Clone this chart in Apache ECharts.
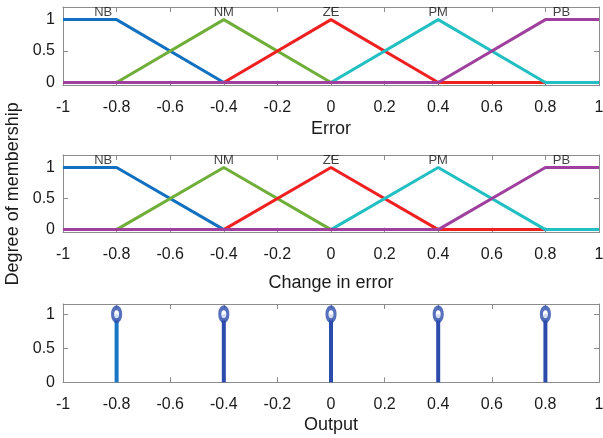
<!DOCTYPE html>
<html>
<head>
<meta charset="utf-8">
<script src="https://cdn.jsdelivr.net/npm/echarts@6/dist/echarts.min.js"></script>
<style>html,body{margin:0;padding:0;background:#fff}#c{width:603px;height:438px}</style>
</head>
<body>
<div id="c"></div>
<script>
// ---- data ----
const mfNames = ['NB', 'NM', 'ZE', 'PM', 'PB'];
const mfNB = [[-1, 1], [-0.8, 1], [-0.4, 0], [1, 0]];
const mfNM = [[-1, 0], [-0.8, 0], [-0.4, 1], [0, 0], [1, 0]];
const mfZE = [[-1, 0], [-0.4, 0], [0, 1], [0.4, 0], [1, 0]];
const mfPM = [[-1, 0], [0, 0], [0.4, 1], [0.8, 0], [1, 0]];
const mfPB = [[-1, 0], [0.4, 0], [0.8, 1], [1, 1]];
const mfLabelX = [-0.85, -0.4, 0, 0.4, 0.86];
const mfLabelY = 1.12;
const outputX = [-0.8, -0.4, 0, 0.4, 0.8];
const outputY = [1, 1, 1, 1, 1];
const yTickValues = [0, 0.5, 1];
const axisNames = ['Error', 'Change in error', 'Output'];

const mfData = [mfNB, mfNM, mfZE, mfPM, mfPB];
const mfColors = ['#1170c0', '#70ae3a', '#ee2020', '#22bfc2', '#a0409e'];
const stemColors = ['#1a74c6', '#2c4cac', '#2c4cac', '#2c4cac', '#2c4cac'];

const FONT = 'Liberation Sans, Arial, sans-serif';
const frameColor = '#8c8c8c';

const grids = [
  {left: 63, right: 4, top: 7, height: 78.7, outerBoundsMode: 'none', containLabel: false},
  {left: 63, right: 4, top: 155, height: 77.7, outerBoundsMode: 'none', containLabel: false},
  {left: 63, right: 4, top: 304, height: 78.3, outerBoundsMode: 'none', containLabel: false}
];
const yRanges = [[-0.05, 1.2], [-0.05, 1.2], [0, 1.15]];
const nameGaps = [34, 41, 34];

const axisLineStyle = {show: true, onZero: false, lineStyle: {color: frameColor, width: 1}};
const xAxes = [], yAxes = [], series = [];
grids.forEach((g, i) => {
  xAxes.push({
    type: 'value', gridIndex: i, min: -1, max: 1, interval: 0.2, position: 'bottom',
    name: axisNames[i], nameLocation: 'middle', nameGap: nameGaps[i],
    nameTextStyle: {fontFamily: FONT, fontSize: 18, color: '#1a1a1a'},
    axisLine: axisLineStyle,
    axisTick: {show: true, inside: true, length: 5, lineStyle: {color: frameColor}},
    axisLabel: {fontFamily: FONT, fontSize: 16, color: '#1a1a1a', margin: 14,
      formatter: v => String(+(+v).toFixed(1))},
    splitLine: {show: false}
  });
  xAxes.push({
    type: 'value', gridIndex: i, min: -1, max: 1, interval: 0.2, position: 'top',
    axisLine: axisLineStyle,
    axisTick: {show: true, inside: true, length: 5, lineStyle: {color: frameColor}},
    axisLabel: {show: false}, splitLine: {show: false}
  });
  yAxes.push({
    type: 'value', gridIndex: i, min: yRanges[i][0], max: yRanges[i][1], position: 'left',
    name: i === 1 ? 'Degree of membership' : '', nameLocation: 'middle', nameGap: 38,
    nameTextStyle: {fontFamily: FONT, fontSize: 18, color: '#1a1a1a'},
    axisLine: axisLineStyle,
    axisTick: {show: true, inside: true, length: 5, customValues: yTickValues, lineStyle: {color: frameColor}},
    axisLabel: {fontFamily: FONT, fontSize: 16, color: '#1a1a1a', margin: 8, customValues: yTickValues,
      formatter: v => String(v)},
    splitLine: {show: false}
  });
  yAxes.push({
    type: 'value', gridIndex: i, min: yRanges[i][0], max: yRanges[i][1], position: 'right',
    axisLine: axisLineStyle,
    axisTick: {show: true, inside: true, length: 5, customValues: yTickValues, lineStyle: {color: frameColor}},
    axisLabel: {show: false}, splitLine: {show: false}
  });
});

// membership function plots (grid 0 and 1)
[0, 1].forEach(gi => {
  mfData.forEach((d, k) => {
    series.push({
      type: 'line', name: mfNames[k], xAxisIndex: gi * 2, yAxisIndex: gi * 2,
      data: d, showSymbol: false, symbol: 'none', z: 2 + k,
      lineStyle: {color: mfColors[k], width: 3}, animation: false
    });
  });
  series.push({
    type: 'scatter', xAxisIndex: gi * 2, yAxisIndex: gi * 2, symbolSize: 0, z: 10,
    data: mfLabelX.map((x, k) => ({value: [x, mfLabelY], name: mfNames[k]})),
    label: {show: true, position: 'inside', formatter: p => p.name,
      fontFamily: FONT, fontSize: 13, color: '#111'},
    animation: false, silent: true
  });
});

// output singletons (grid 2)
series.push({
  type: 'bar', xAxisIndex: 4, yAxisIndex: 4, barWidth: 4, z: 2,
  data: outputX.map((x, k) => ({value: [x, outputY[k]], itemStyle: {color: stemColors[k]}})),
  animation: false
});
series.push({
  type: 'scatter', xAxisIndex: 4, yAxisIndex: 4, z: 3,
  symbol: 'circle', symbolSize: [8, 13],
  data: outputX.map((x, k) => [x, outputY[k]]),
  itemStyle: {color: '#ffffff', borderColor: '#2c4cac', borderWidth: 4},
  animation: false
});

const chart = echarts.init(document.getElementById('c'), null, {renderer: 'canvas'});
chart.setOption({
  backgroundColor: '#fff',
  animation: false,
  grid: grids,
  xAxis: xAxes,
  yAxis: yAxes,
  series: series
});
</script>
</body>
</html>
